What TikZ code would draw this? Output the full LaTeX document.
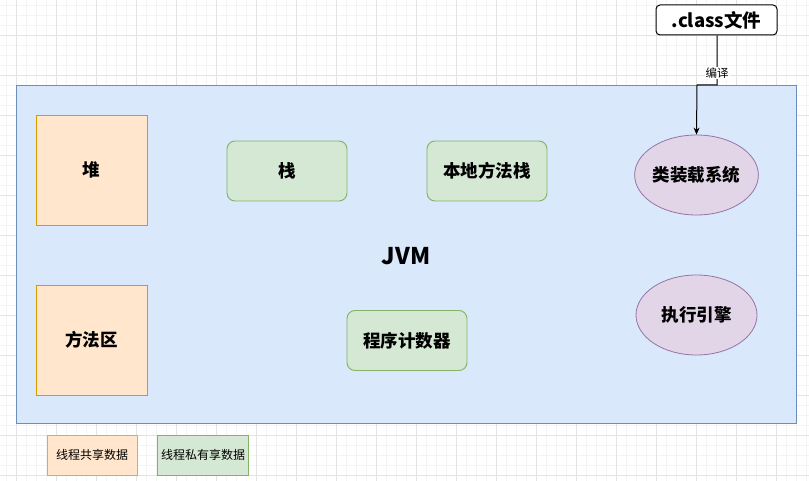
\documentclass[tikz,border=0pt]{standalone}
\usepackage{fontspec}
\setmainfont{Noto Sans CJK SC}
\usetikzlibrary{arrows.meta,shapes.geometric,decorations.pathmorphing}
\definecolor{bluefill}{HTML}{DAE8FC}
\definecolor{bluedraw}{HTML}{6C8EBF}
\definecolor{orfill}{HTML}{FFE6CC}
\definecolor{ordraw}{HTML}{D79B00}
\definecolor{grfill}{HTML}{D5E8D4}
\definecolor{grdraw}{HTML}{82B366}
\definecolor{pufill}{HTML}{E1D5E7}
\definecolor{pudraw}{HTML}{9673A6}
\definecolor{gridminor}{HTML}{F4F4F4}
\definecolor{gridmajor}{HTML}{E3E3E3}
\tikzset{
  sharedbox/.style={draw=ordraw,fill=orfill,line width=0.9pt,minimum width=111pt,minimum height=110pt,font=\fontsize{17.5}{20}\selectfont\bfseries},
  privbox/.style={draw=grdraw,fill=grfill,line width=0.9pt,rounded corners=8pt,minimum width=120pt,minimum height=60pt,font=\fontsize{17.5}{20}\selectfont\bfseries},
  engine/.style={ellipse,draw=pudraw,fill=pufill,line width=0.8pt,minimum width=121pt,minimum height=80pt,inner sep=0pt,font=\fontsize{17.5}{20}\selectfont\bfseries},
  legendbox/.style={line width=0.9pt,minimum width=90pt,minimum height=40pt,font=\fontsize{12}{14}\selectfont},
  conn/.style={draw=black,line width=1pt,-{Stealth[length=7pt,width=6pt]}}
}
\begin{document}
\begin{tikzpicture}[x=1pt,y=-1pt]
\useasboundingbox (0,0) rectangle (809,481);
\fill[white] (0,0) rectangle (809,481);
% grid
\foreach \gx in {6,16,...,806}{\draw[gridminor,line width=0.6pt] (\gx,0) -- (\gx,481);}
\foreach \gy in {5,15,...,475}{\draw[gridminor,line width=0.6pt] (0,\gy) -- (809,\gy);}
\foreach \gx in {16,56,...,800}{\draw[gridmajor,line width=0.7pt] (\gx,0) -- (\gx,481);}
\foreach \gy in {35,75,...,475}{\draw[gridmajor,line width=0.7pt] (0,\gy) -- (809,\gy);}
% JVM container
\node[draw=bluedraw,fill=bluefill,line width=0.9pt,minimum width=780pt,minimum height=338pt,inner sep=0pt] (jvm) at (406,254) {};
\node[font=\fontsize{23}{27}\selectfont\bfseries] (jvmlabel) at (406,256) {JVM};
% shared
\node[sharedbox] (heap) at (91.5,170) {堆};
\node[sharedbox] (method) at (91.5,340) {方法区};
% private
\node[privbox] (stack) at (287,171) {栈};
\node[privbox] (native) at (487,171) {本地方法栈};
\node[privbox] (pc) at (407,340.5) {程序计数器};
% engines
\node[engine] (loader) at (696.5,175) {类装载系统};
\node[engine] (exec) at (696.5,315) {执行引擎};
% class file
\node[draw=black,fill=white,line width=1pt,rounded corners=4pt,minimum width=121pt,minimum height=30pt,font=\fontsize{18.5}{21}\selectfont\bfseries] (cls) at (716.5,20) {.class文件};
\coordinate (bend1) at (717,85);
\coordinate (bend2) at (697,85);
\draw[conn] (cls.south -| bend1) -- (bend1) -- (bend2) -- (loader.north);
\node[fill=white,inner sep=1pt,font=\fontsize{11.5}{13}\selectfont] (compile) at (717,73) {编译};
% legend
\node[legendbox,draw=ordraw!80,fill=orfill] (leg1) at (92,455) {线程共享数据};
\node[legendbox,draw=grdraw,fill=grfill] (leg2) at (203,455) {线程私有享数据};
\end{tikzpicture}
\end{document}
